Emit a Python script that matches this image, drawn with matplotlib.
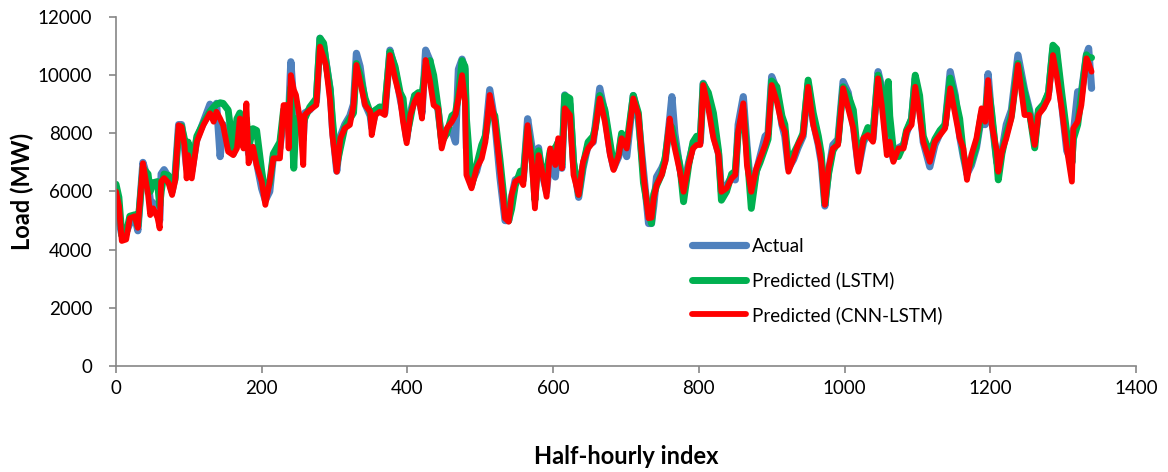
import matplotlib
matplotlib.use("Agg")
import matplotlib.pyplot as plt

# half-hourly index of the knots
idx = [0, 4, 8, 14, 19, 26, 30, 37, 44, 47, 51, 57, 60, 62, 66, 72, 77, 81, 86, 90,
       94, 97, 99, 104, 111, 120, 129, 134, 138, 143, 147, 154, 161, 166, 170, 175, 179, 182, 188, 193,
       200, 205, 211, 216, 225, 230, 235, 237, 240, 244, 247, 253, 257, 259, 266, 275, 280, 285, 288, 294,
       297, 303, 308, 314, 321, 326, 330, 335, 342, 349, 351, 356, 362, 369, 376, 383, 390, 394, 399, 404,
       410, 415, 420, 425, 431, 436, 442, 447, 454, 461, 466, 470, 475, 479, 481, 488, 495, 502, 507, 513,
       520, 527, 534, 539, 543, 548, 555, 559, 565, 571, 575, 580, 584, 591, 596, 603, 607, 612, 616, 623,
       628, 635, 641, 648, 655, 658, 664, 671, 678, 683, 690, 694, 701, 710, 717, 724, 731, 735, 738, 742,
       749, 754, 760, 763, 767, 774, 779, 786, 792, 797, 802, 806, 813, 820, 827, 831, 838, 845, 850, 854,
       861, 866, 872, 879, 884, 891, 895, 900, 907, 914, 918, 923, 930, 936, 943, 950, 957, 964, 968, 973,
       978, 984, 991, 998, 1005, 1012, 1019, 1026, 1032, 1039, 1046, 1051, 1058, 1060, 1062, 1067, 1074, 1081, 1085, 1092,
       1097, 1103, 1108, 1117, 1124, 1131, 1138, 1145, 1152, 1158, 1163, 1168, 1174, 1181, 1188, 1193, 1197, 1202, 1209, 1211,
       1216, 1222, 1229, 1238, 1247, 1254, 1261, 1266, 1273, 1280, 1286, 1291, 1298, 1305, 1312, 1314, 1320, 1325, 1332, 1335,
       1339]

actual = [5900, 5000, 4500, 4600, 4900, 5100, 4650, 7000, 6400, 5700, 5600, 5300, 5000, 6600, 6750, 6500, 6000, 6500, 8300, 8300,
          7500, 6800, 7500, 6700, 7800, 8400, 9000, 8800, 9030, 7200, 8300, 7600, 7300, 7900, 8600, 7700, 8000, 7300, 7500, 7000,
          6100, 5700, 6000, 7200, 7500, 8500, 8600, 8600, 10460, 9000, 8700, 8200, 7800, 8700, 8800, 9100, 11270, 11000, 10500, 9500,
          8200, 6700, 7900, 8300, 8600, 9000, 10750, 10300, 9000, 8600, 8200, 8700, 8900, 8700, 10860, 10200, 9200, 8700, 7800, 8700,
          9300, 9300, 8700, 10860, 10500, 9300, 8800, 7800, 8000, 8100, 7700, 10200, 10550, 10200, 7500, 6300, 6700, 7400, 7900, 9500,
          8400, 6500, 5000, 5000, 5800, 6400, 6500, 6400, 8500, 7500, 7300, 7500, 6700, 6000, 7300, 6500, 7700, 6800, 9320, 9000,
          7000, 5800, 6800, 7600, 7700, 8300, 9550, 8700, 7400, 6800, 7200, 7900, 7200, 9300, 8500, 6700, 4900, 4900, 5500, 6500,
          6800, 7100, 8500, 9260, 8000, 6800, 6100, 7000, 7600, 7800, 7700, 9720, 9300, 8000, 7300, 6000, 6200, 6500, 6400, 8300,
          9260, 7600, 5900, 6700, 7200, 7900, 8000, 9950, 9500, 8300, 7900, 6800, 7100, 7500, 7900, 9700, 8400, 7600, 7000, 5500,
          6700, 7600, 7800, 9780, 9400, 8300, 6800, 7700, 8000, 7800, 10120, 9600, 7600, 7700, 7600, 7100, 7500, 7600, 8000, 8500,
          9900, 9000, 7700, 6850, 7600, 8000, 8300, 10120, 9300, 7900, 7200, 6600, 6900, 7500, 8600, 8300, 10050, 8500, 7000, 6900,
          7400, 8300, 8800, 10690, 9500, 8800, 7700, 8700, 8900, 9400, 10900, 10700, 9000, 7400, 7000, 8000, 9430, 9400, 10700, 10920,
          9550]

lstm = [6250, 5800, 4500, 4550, 5150, 5200, 4800, 6800, 6600, 6000, 6300, 6340, 5500, 6000, 6600, 6550, 6300, 6400, 8100, 8250,
        7800, 7300, 7700, 6800, 7900, 8350, 8750, 8900, 9000, 9050, 9030, 8800, 7400, 8500, 8700, 8200, 8500, 7500, 8160, 8100,
        6700, 5900, 6300, 7300, 7700, 8800, 8900, 8800, 9600, 6800, 8500, 8500, 8300, 8500, 8900, 9200, 11270, 11100, 10500, 9500,
        8500, 6900, 7500, 8200, 8500, 8700, 10400, 10000, 9200, 8700, 8400, 8800, 8900, 8900, 10800, 10300, 9400, 9200, 7900, 8500,
        9300, 9400, 9300, 10300, 10500, 10000, 8900, 7700, 8000, 8600, 8700, 9300, 10500, 10300, 8500, 6200, 6900, 7600, 7900, 8900,
        8600, 7100, 5400, 5000, 5400, 6200, 6700, 6500, 8200, 7200, 5700, 7400, 6800, 6700, 7400, 7500, 7700, 6900, 9300, 9200,
        7000, 5900, 6900, 7700, 7900, 8200, 9300, 8800, 7700, 6900, 7300, 8000, 7600, 9300, 8700, 6300, 5300, 4900, 5900, 6200,
        6600, 7200, 8300, 8200, 7700, 6900, 5650, 6900, 7700, 7900, 7800, 9700, 9400, 8700, 7400, 5700, 6000, 6600, 6700, 8000,
        8800, 7400, 5420, 6700, 7000, 7500, 7800, 9800, 9600, 8600, 8300, 7000, 7300, 7600, 8000, 9830, 8700, 7900, 7300, 5600,
        6600, 7400, 7700, 9600, 9300, 8800, 7000, 7800, 8200, 8000, 10000, 9500, 8000, 9780, 8600, 7400, 7200, 7600, 8100, 8500,
        10000, 9300, 7900, 7300, 7800, 8100, 8300, 9900, 9200, 8500, 7300, 6700, 7000, 7600, 8700, 8600, 9600, 8700, 7000, 6400,
        7300, 8000, 8600, 10400, 9400, 8700, 7500, 8800, 9000, 9400, 11030, 10900, 9400, 8000, 7000, 7800, 8300, 9300, 10700, 10600,
        10600]

cnn_lstm = [6000, 5500, 4300, 4350, 5080, 5150, 4750, 6970, 5900, 5190, 5420, 5100, 4730, 6340, 6460, 6300, 5880, 6340, 8280, 8220,
            7600, 6450, 7250, 6450, 7710, 8280, 8690, 8400, 8740, 8500, 8280, 7370, 7250, 7480, 8510, 7480, 9030, 6970, 7540, 6910,
            6340, 5540, 6340, 7140, 7140, 8970, 8970, 7480, 10000, 9500, 9320, 8400, 6910, 8630, 8800, 8970, 10980, 10600, 10350, 9090,
            7940, 6680, 7830, 8170, 8290, 8970, 10350, 9780, 8970, 8740, 7940, 8630, 8740, 8630, 10690, 9890, 9200, 8400, 7660, 8630,
            9090, 9320, 8510, 10520, 9780, 8970, 8860, 7480, 8170, 8400, 8630, 9200, 10000, 9090, 6570, 6110, 6800, 7140, 7710, 9320,
            8400, 6800, 5080, 4960, 5880, 6340, 6450, 6220, 8280, 6910, 5420, 7250, 6800, 5820, 7480, 6910, 7830, 6800, 8860, 8630,
            6570, 5880, 7020, 7480, 7710, 8170, 9200, 8400, 7250, 6740, 7250, 7830, 7480, 9200, 8630, 6570, 5080, 5100, 5760, 6220,
            6570, 7020, 8510, 8000, 7480, 6680, 5990, 6910, 7480, 7600, 7600, 9660, 8860, 7830, 7250, 5990, 6110, 6450, 6570, 8060,
            9030, 6910, 5990, 6800, 7140, 7600, 7940, 9660, 9090, 8290, 8060, 6680, 7140, 7600, 7940, 9600, 8290, 7600, 7020, 5540,
            6800, 7480, 7600, 9550, 8860, 8170, 6680, 7830, 7940, 7710, 9890, 8970, 7250, 7600, 7710, 7020, 7480, 7480, 8060, 8290,
            9600, 8630, 7710, 7020, 7710, 7940, 8170, 9550, 8630, 7830, 7480, 6400, 7250, 7830, 8860, 8400, 9830, 8290, 7370, 6680,
            7370, 7830, 8510, 10350, 8630, 8630, 7600, 8630, 8860, 9200, 10690, 10000, 8860, 7480, 6340, 8170, 8400, 8970, 10580, 10400,
            10120]

fig = plt.figure(figsize=(11.68, 4.72), dpi=100)
ax = fig.add_axes([0.0993, 0.2246, 0.8733, 0.7394])
plt.rcParams["font.family"] = "Lato"

ax.plot(idx, actual, color="#4F81BD", lw=5.2, label="Actual", solid_capstyle="round")
ax.plot(idx, lstm, color="#00B050", lw=5.0, label="Predicted (LSTM)", solid_capstyle="round")
ax.plot(idx, cnn_lstm, color="#FF0000", lw=4.2, label="Predicted (CNN-LSTM)", solid_capstyle="round")

ax.set_xlim(0, 1400)
ax.set_ylim(0, 12000)
ax.set_xticks(range(0, 1401, 200))
ax.set_yticks(range(0, 12001, 2000))
for s in ["top", "right"]:
    ax.spines[s].set_visible(False)
for s in ["left", "bottom"]:
    ax.spines[s].set_color("#868686")
    ax.spines[s].set_linewidth(1.2)
ax.tick_params(colors="#868686", length=5, width=1.2, labelcolor="black", labelsize=13.5,
               labelfontfamily="Lato")
ax.tick_params(axis="y", pad=12)
ax.tick_params(axis="x", pad=5)

ax.set_xlabel("Half-hourly index", fontsize=17, fontweight="bold", family="Lato", labelpad=35)
ax.set_ylabel("Load (MW)", fontsize=17, fontweight="bold", family="Lato", labelpad=3)

leg = ax.legend(loc="upper left", bbox_to_anchor=(0.548, 0.415), frameon=False,
                handlelength=2.9, handletextpad=0.3, labelspacing=0.88,
                prop={"family": "Lato", "size": 13.5})

fig.savefig("out.png", dpi=100)
